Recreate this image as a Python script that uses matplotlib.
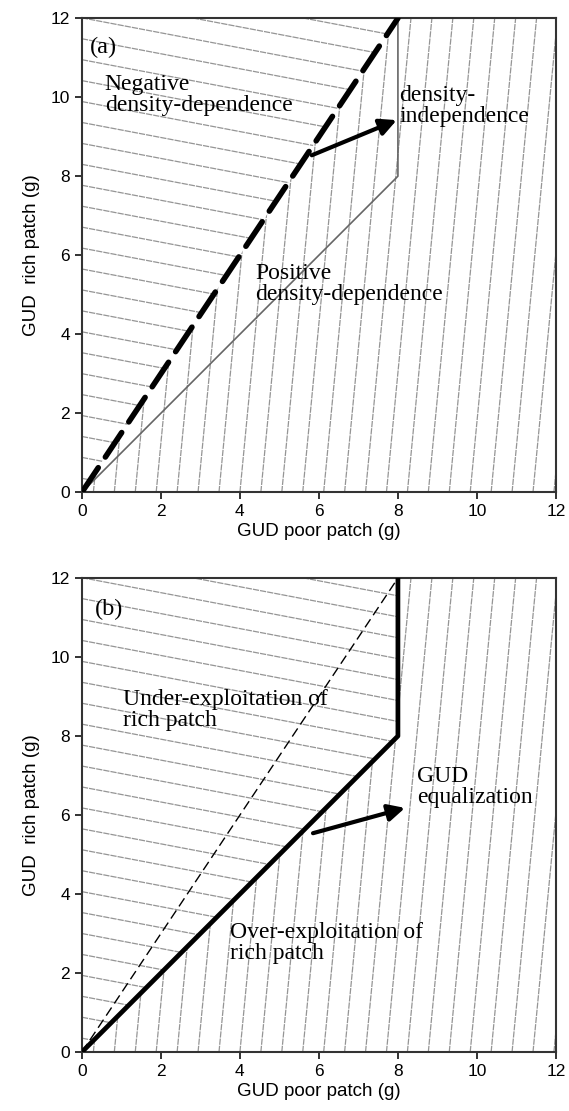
import matplotlib
matplotlib.use('Agg')
import matplotlib.pyplot as plt
import numpy as np
from matplotlib.collections import LineCollection
from matplotlib.patches import Polygon

# boundary lines (GUD poor, GUD rich)
ideal_x = [0, 8]          # density-independence / GUD equalization line
ideal_y = [0, 12]
diag_x = [0, 8, 8]        # 1:1 line then vertical at poor-patch max
diag_y = [0, 8, 12]

# arrows: (tail, head)
arrow_a = ((5.82, 8.53), (7.97, 9.42))
arrow_b = ((5.85, 5.54), (8.18, 6.18))

ticks = [0, 2, 4, 6, 8, 10, 12]
xlabel = 'GUD poor patch (g)'
ylabel = 'GUD  rich patch (g)'

serif = 'Liberation Serif'
sans = 'Liberation Sans'


def hatch(ax, upper, lower):
  # near-horizontal lines in the upper-left region
  segs = []
  for c in np.arange(0.35, 15, 0.53):
    segs.append([(0, c), (12, c - 0.19 * 12)])
  lc = LineCollection(segs, colors='#959595', linewidths=0.9,
                      linestyles=(0, (5, 0.8)), zorder=1)
  ax.add_collection(lc)
  lc.set_clip_path(Polygon(upper, closed=True, transform=ax.transData))
  # near-vertical lines in the lower-right region
  segs = []
  for c in np.arange(-1.3, 12.2, 0.53):
    segs.append([(c, 0), (c + 1.15, 12)])
  lc = LineCollection(segs, colors='#959595', linewidths=0.9,
                      linestyles=(0, (5, 0.8)), zorder=1)
  ax.add_collection(lc)
  lc.set_clip_path(Polygon(lower, closed=True, transform=ax.transData))


def style(ax):
  ax.set_xlim(0, 12)
  ax.set_ylim(0, 12)
  ax.set_xticks(ticks)
  ax.set_yticks(ticks)
  ax.tick_params(direction='out', length=5, width=1.3, labelsize=12.5,
                 top=False, right=False, color='#222222')
  for lab in ax.get_xticklabels() + ax.get_yticklabels():
    lab.set_family(sans)
  for s in ax.spines.values():
    s.set_linewidth(1.5)
    s.set_color('#333333')
  ax.set_xlabel(xlabel, family=sans, fontsize=13.5, labelpad=3)
  ax.set_ylabel(ylabel, family=sans, fontsize=13.5, labelpad=8)


def arrow(ax, a):
  ax.annotate('', xy=a[1], xytext=a[0],
              arrowprops=dict(arrowstyle='-|>,head_length=1.0,head_width=0.5',
                              lw=3, color='black', shrinkA=0, shrinkB=0),
              zorder=5)


fig = plt.figure(figsize=(5.69, 11.11), dpi=100)

# panel (a)
ax = fig.add_axes([0.144, 0.557, 0.833, 0.4266])
hatch(ax, [(0, 0), (8, 12), (0, 12)],
      [(0, 0), (12, 0), (12, 12), (8, 12)])
ax.plot(diag_x, diag_y, color='#666666', lw=1.2, zorder=3)
ax.plot(ideal_x, ideal_y, color='black', lw=4, zorder=4,
        dashes=(5.3, 2.3), solid_capstyle='round', dash_capstyle='round')
arrow(ax, arrow_a)
ax.text(0.2, 11.25, '(a)', family=serif, fontsize=17.5, va='center')
ax.text(0.58, 10.6, 'Negative\ndensity-dependence', family=serif,
        fontsize=17, va='top', linespacing=1.05)
ax.text(8.03, 10.3, 'density-\nindependence', family=serif,
        fontsize=17, va='top', linespacing=1.0)
ax.text(4.38, 5.8, 'Positive\ndensity-dependence', family=serif,
        fontsize=17, va='top', linespacing=1.0)
style(ax)

# panel (b)
ax = fig.add_axes([0.144, 0.0531, 0.833, 0.4266])
hatch(ax, [(0, 0), (8, 8), (8, 12), (0, 12)],
      [(0, 0), (12, 0), (12, 12), (8, 12), (8, 8)])
ax.plot(ideal_x, ideal_y, color='black', lw=1, zorder=3, dashes=(7, 3.5))
ax.plot(diag_x, diag_y, color='black', lw=3.4, zorder=4)
arrow(ax, arrow_b)
ax.text(0.33, 11.2, '(b)', family=serif, fontsize=17.5, va='center')
ax.text(1.04, 9.2, 'Under-exploitation of\nrich patch', family=serif,
        fontsize=17, va='top', linespacing=1.0)
ax.text(8.48, 7.25, 'GUD\nequalization', family=serif,
        fontsize=17, va='top', linespacing=1.0)
ax.text(3.75, 3.3, 'Over-exploitation of\nrich patch', family=serif,
        fontsize=17, va='top', linespacing=1.0)
style(ax)

fig.savefig('out.png', dpi=100)
plt.close()
